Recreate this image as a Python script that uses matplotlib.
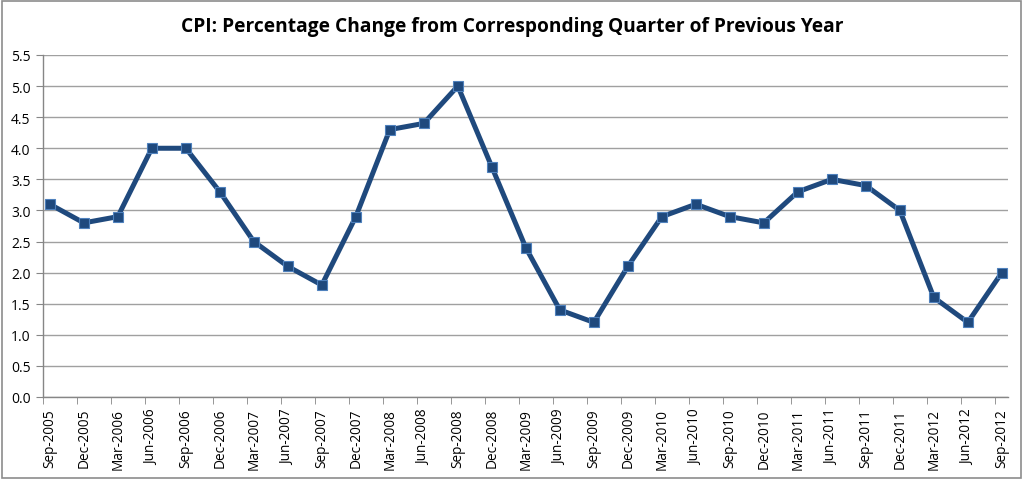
import matplotlib
matplotlib.use("Agg")
import matplotlib.pyplot as plt
import numpy as np
from matplotlib.patches import Rectangle

quarters = ["Sep-2005", "Dec-2005", "Mar-2006", "Jun-2006", "Sep-2006", "Dec-2006",
            "Mar-2007", "Jun-2007", "Sep-2007", "Dec-2007", "Mar-2008", "Jun-2008",
            "Sep-2008", "Dec-2008", "Mar-2009", "Jun-2009", "Sep-2009", "Dec-2009",
            "Mar-2010", "Jun-2010", "Sep-2010", "Dec-2010", "Mar-2011", "Jun-2011",
            "Sep-2011", "Dec-2011", "Mar-2012", "Jun-2012", "Sep-2012"]
cpi_change = [3.1, 2.8, 2.9, 4.0, 4.0, 3.3, 2.5, 2.1, 1.8, 2.9, 4.3, 4.4, 5.0, 3.7,
              2.4, 1.4, 1.2, 2.1, 2.9, 3.1, 2.9, 2.8, 3.3, 3.5, 3.4, 3.0, 1.6, 1.2, 2.0]
yticks = [0.0, 0.5, 1.0, 1.5, 2.0, 2.5, 3.0, 3.5, 4.0, 4.5, 5.0, 5.5]
title = "CPI: Percentage Change from Corresponding Quarter of Previous Year"

plt.rcParams['font.family'] = ['Open Sans', 'DejaVu Sans']

fig = plt.figure(figsize=(10.24, 4.81), dpi=100)
fig.patches.append(Rectangle((0.002, 0.004), 0.995, 0.992, transform=fig.transFigure,
                             fill=False, edgecolor='#8c8c8c', linewidth=1.2))
ax = fig.add_axes([0.042, 0.1726, 0.942, 0.7110])

x = np.arange(len(quarters))
ax.plot(x, cpi_change, color='#1f497d', linewidth=3.6, marker='s', markersize=7.5,
        markerfacecolor='#1f497d', markeredgecolor='#4f81bd', markeredgewidth=0.8,
        zorder=3, clip_on=False)

ax.set_ylim(0, 5.5)
ax.set_xlim(-0.2, 28.17)
ax.set_yticks(yticks)
ax.set_yticklabels([f"{v:.1f}" for v in yticks], fontsize=10)
ax.set_xticks(x)
ax.set_xticklabels(quarters, rotation=90, fontsize=9.8)
ax.tick_params(axis='x', which='major', length=0, pad=8)
ax.set_xticks(x - 0.2, minor=True)
ax.tick_params(axis='x', which='minor', length=5, color='#868686', direction='out')
ax.tick_params(axis='y', length=5, color='#868686', pad=4)
ax.grid(axis='y', color='#a0a0a0', linewidth=1.0)
ax.set_axisbelow(True)
for s in ['top', 'right']:
    ax.spines[s].set_visible(False)
for s in ['left', 'bottom']:
    ax.spines[s].set_color('#868686')
    ax.spines[s].set_linewidth(1.0)

fig.text(0.5, 0.944, title, ha='center', va='center', fontsize=13.8, fontweight='bold')

fig.savefig("out.png", dpi=100)
